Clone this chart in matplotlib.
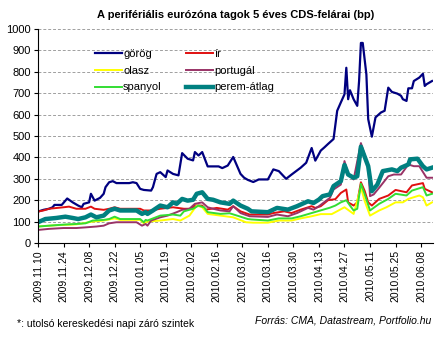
import matplotlib
matplotlib.use('Agg')
import matplotlib.pyplot as plt
import matplotlib.dates as mdates
import pandas as pd

plt.rcParams['font.family'] = ['Liberation Sans', 'DejaVu Sans']

# görög
gr_dates = ['2009-11-10', '2009-11-13', '2009-11-16', '2009-11-18', '2009-11-19', '2009-11-23',
            '2009-11-26', '2009-11-29', '2009-12-02', '2009-12-04', '2009-12-05', '2009-12-08',
            '2009-12-09', '2009-12-11', '2009-12-14', '2009-12-16', '2009-12-17', '2009-12-19',
            '2009-12-21', '2009-12-23', '2009-12-30', '2010-01-01', '2010-01-03', '2010-01-05',
            '2010-01-07', '2010-01-11', '2010-01-12', '2010-01-14', '2010-01-16', '2010-01-19',
            '2010-01-20', '2010-01-23', '2010-01-26', '2010-01-28', '2010-01-31', '2010-02-03',
            '2010-02-04', '2010-02-06', '2010-02-08', '2010-02-11', '2010-02-17', '2010-02-19',
            '2010-02-22', '2010-02-25', '2010-03-01', '2010-03-03', '2010-03-05', '2010-03-08',
            '2010-03-11', '2010-03-16', '2010-03-19', '2010-03-22', '2010-03-26', '2010-03-29',
            '2010-04-03', '2010-04-06', '2010-04-09', '2010-04-11', '2010-04-14', '2010-04-16',
            '2010-04-18', '2010-04-21', '2010-04-23', '2010-04-25', '2010-04-27', '2010-04-28',
            '2010-04-29', '2010-04-30', '2010-05-02', '2010-05-04', '2010-05-05', '2010-05-06',
            '2010-05-07', '2010-05-09', '2010-05-10', '2010-05-12', '2010-05-14', '2010-05-17',
            '2010-05-19', '2010-05-21', '2010-05-23', '2010-05-26', '2010-05-28', '2010-05-29',
            '2010-05-31', '2010-06-01', '2010-06-03', '2010-06-04', '2010-06-07', '2010-06-09',
            '2010-06-10', '2010-06-11', '2010-06-14']
gr_vals = [147, 155, 160, 167, 178, 178,
           208, 190, 175, 167, 183, 190,
           230, 198, 211, 230, 261, 284,
           289, 280, 280, 284, 280, 253,
           248, 245, 261, 323, 331, 308,
           339, 323, 316, 420, 394, 386,
           425, 409, 425, 358, 358, 350,
           362, 402, 323, 305, 295, 285,
           297, 297, 344, 336, 300, 320,
           352, 375, 444, 385, 432, 447,
           463, 486, 618, 657, 695, 819,
           672, 714, 672, 641, 757, 935,
           935, 788, 579, 497, 587, 610,
           618, 726, 706, 698, 688, 672,
           664, 723, 723, 757, 773, 791,
           734, 742, 757]

# ír
ir_dates = ['2009-11-10', '2009-11-13', '2009-11-16', '2009-11-24', '2009-11-27', '2009-12-01',
            '2009-12-06', '2009-12-09', '2009-12-11', '2009-12-16', '2009-12-19', '2009-12-22',
            '2009-12-25', '2010-01-05', '2010-01-07', '2010-01-11', '2010-01-16', '2010-01-23',
            '2010-01-29', '2010-02-02', '2010-02-04', '2010-02-08', '2010-02-10', '2010-02-16',
            '2010-02-22', '2010-02-25', '2010-03-01', '2010-03-06', '2010-03-16', '2010-03-19',
            '2010-03-25', '2010-03-29', '2010-04-03', '2010-04-09', '2010-04-11', '2010-04-14',
            '2010-04-18', '2010-04-22', '2010-04-25', '2010-04-28', '2010-04-29', '2010-05-02',
            '2010-05-04', '2010-05-06', '2010-05-08', '2010-05-10', '2010-05-12', '2010-05-16',
            '2010-05-21', '2010-05-25', '2010-05-31', '2010-06-03', '2010-06-09', '2010-06-10',
            '2010-06-14']
ir_vals = [147, 152, 160, 167, 170, 160,
           160, 170, 160, 155, 160, 167,
           160, 160, 152, 152, 160, 167,
           160, 160, 175, 175, 156, 164,
           156, 172, 148, 133, 133, 140,
           148, 140, 156, 172, 164, 172,
           200, 205, 234, 250, 190, 175,
           190, 284, 245, 190, 175, 206,
           222, 248, 237, 269, 280, 253,
           237]

# olasz
ol_dates = ['2009-11-10', '2009-11-20', '2009-12-01', '2009-12-10', '2009-12-16', '2009-12-22',
            '2009-12-25', '2010-01-05', '2010-01-07', '2010-01-09', '2010-01-16', '2010-01-23',
            '2010-01-27', '2010-02-01', '2010-02-05', '2010-02-08', '2010-02-11', '2010-02-18',
            '2010-02-25', '2010-03-04', '2010-03-08', '2010-03-16', '2010-03-22', '2010-03-29',
            '2010-04-03', '2010-04-09', '2010-04-14', '2010-04-20', '2010-04-22', '2010-04-27',
            '2010-05-02', '2010-05-06', '2010-05-08', '2010-05-11', '2010-05-16', '2010-05-20',
            '2010-05-25', '2010-05-29', '2010-06-01', '2010-06-07', '2010-06-09', '2010-06-11',
            '2010-06-14']
ol_vals = [77, 83, 87, 100, 105, 115,
           108, 108, 92, 100, 105, 112,
           105, 128, 175, 167, 136, 128,
           120, 97, 95, 95, 105, 105,
           115, 125, 135, 135, 144, 167,
           136, 261, 198, 128, 152, 167,
           190, 190, 206, 222, 214, 175,
           190]

# portugál
pt_dates = ['2009-11-10', '2009-11-16', '2009-11-24', '2009-12-01', '2009-12-06', '2009-12-12',
            '2009-12-16', '2009-12-19', '2009-12-23', '2010-01-03', '2010-01-06', '2010-01-08',
            '2010-01-09', '2010-01-11', '2010-01-16', '2010-01-20', '2010-01-25', '2010-01-28',
            '2010-02-01', '2010-02-04', '2010-02-08', '2010-02-11', '2010-02-14', '2010-02-18',
            '2010-02-23', '2010-02-25', '2010-03-01', '2010-03-06', '2010-03-16', '2010-03-21',
            '2010-03-27', '2010-04-01', '2010-04-07', '2010-04-10', '2010-04-13', '2010-04-19',
            '2010-04-21', '2010-04-25', '2010-04-27', '2010-04-29', '2010-05-02', '2010-05-06',
            '2010-05-10', '2010-05-11', '2010-05-13', '2010-05-16', '2010-05-21', '2010-05-24',
            '2010-05-28', '2010-06-01', '2010-06-04', '2010-06-07', '2010-06-11', '2010-06-14']
pt_vals = [61, 66, 70, 70, 73, 77,
           81, 92, 97, 97, 81, 89,
           81, 105, 120, 128, 144, 155,
           160, 183, 190, 167, 160, 152,
           148, 172, 140, 125, 122, 133,
           125, 140, 164, 156, 172, 211,
           250, 273, 383, 320, 297, 467,
           359, 219, 227, 258, 312, 320,
           320, 367, 359, 359, 305, 305]

# spanyol
es_dates = ['2009-11-10', '2009-11-16', '2009-11-24', '2009-12-01', '2009-12-06', '2009-12-10',
            '2009-12-16', '2009-12-19', '2009-12-22', '2009-12-25', '2010-01-05', '2010-01-07',
            '2010-01-08', '2010-01-09', '2010-01-16', '2010-01-23', '2010-01-27', '2010-01-29',
            '2010-02-03', '2010-02-06', '2010-02-09', '2010-02-11', '2010-02-18', '2010-02-23',
            '2010-03-01', '2010-03-05', '2010-03-07', '2010-03-16', '2010-03-22', '2010-03-29',
            '2010-04-03', '2010-04-09', '2010-04-13', '2010-04-19', '2010-04-22', '2010-04-25',
            '2010-04-28', '2010-04-30', '2010-05-02', '2010-05-04', '2010-05-06', '2010-05-08',
            '2010-05-11', '2010-05-16', '2010-05-21', '2010-05-25', '2010-05-31', '2010-06-03',
            '2010-06-09', '2010-06-11', '2010-06-14']
es_vals = [77, 81, 86, 89, 92, 105,
           108, 112, 123, 112, 112, 97,
           108, 105, 128, 133, 128, 148,
           160, 175, 167, 144, 136, 139,
           123, 112, 110, 105, 115, 115,
           125, 140, 150, 165, 175, 190,
           200, 175, 152, 160, 277, 230,
           152, 183, 206, 230, 222, 245,
           261, 222, 230]

# perem-átlag
pa_dates = ['2009-11-10', '2009-11-14', '2009-11-20', '2009-11-25', '2009-11-29', '2009-12-02',
            '2009-12-06', '2009-12-09', '2009-12-12', '2009-12-16', '2009-12-19', '2009-12-22',
            '2009-12-25', '2010-01-03', '2010-01-06', '2010-01-08', '2010-01-09', '2010-01-12',
            '2010-01-16', '2010-01-20', '2010-01-23', '2010-01-25', '2010-01-28', '2010-01-31',
            '2010-02-03', '2010-02-05', '2010-02-08', '2010-02-11', '2010-02-14', '2010-02-18',
            '2010-02-23', '2010-02-25', '2010-03-01', '2010-03-05', '2010-03-07', '2010-03-16',
            '2010-03-21', '2010-03-27', '2010-04-01', '2010-04-07', '2010-04-10', '2010-04-13',
            '2010-04-15', '2010-04-19', '2010-04-21', '2010-04-25', '2010-04-27', '2010-04-29',
            '2010-05-02', '2010-05-04', '2010-05-06', '2010-05-10', '2010-05-12', '2010-05-15',
            '2010-05-18', '2010-05-23', '2010-05-26', '2010-05-28', '2010-06-01', '2010-06-02',
            '2010-06-06', '2010-06-09', '2010-06-11', '2010-06-14']
pa_vals = [97, 112, 117, 123, 117, 112,
           120, 133, 120, 128, 152, 160,
           152, 152, 136, 144, 136, 152,
           175, 167, 190, 183, 206, 198,
           202, 230, 237, 206, 202, 190,
           183, 198, 175, 160, 148, 144,
           164, 156, 172, 195, 187, 203,
           219, 227, 266, 289, 365, 320,
           305, 312, 450, 359, 242, 273,
           336, 344, 336, 352, 367, 391,
           394, 359, 344, 352]

series = [
    ('görög', gr_dates, gr_vals, '#000080', 1.6),
    ('ír', ir_dates, ir_vals, '#e01010', 1.4),
    ('olasz', ol_dates, ol_vals, '#ffff00', 1.4),
    ('portugál', pt_dates, pt_vals, '#993366', 1.4),
    ('spanyol', es_dates, es_vals, '#33dd33', 1.4),
    ('perem-átlag', pa_dates, pa_vals, '#008080', 3.2),
]

tick_dates = pd.date_range('2009-11-10', '2010-06-08', freq='14D')

fig = plt.figure(figsize=(4.38, 3.44), dpi=100)
ax = fig.add_axes([0.0868, 0.2936, 0.9017, 0.622])

lines = {}
for name, d, v, c, lw in series:
    lines[name], = ax.plot(pd.to_datetime(d), v, color=c, lw=lw, label=name,
                           solid_joinstyle='round')

ax.set_ylim(0, 1000)
ax.set_yticks(range(0, 1001, 100))
ax.set_xlim(pd.Timestamp('2009-11-10'), pd.Timestamp('2010-06-14 12:00'))
ax.set_xticks(tick_dates)
ax.xaxis.set_major_formatter(mdates.DateFormatter('%Y.%m.%d'))
plt.setp(ax.get_xticklabels(), rotation=90, fontsize=7.5)
plt.setp(ax.get_yticklabels(), fontsize=8)
ax.tick_params(length=3, width=0.8, pad=2)

ax.yaxis.grid(True, ls=(0, (3, 2)), color='#a0a0a0', lw=0.7)
ax.set_axisbelow(True)
for s in ['top', 'right']:
    ax.spines[s].set_visible(False)

ax.set_title('A perifériális eurózóna tagok 5 éves CDS-felárai (bp)',
             fontsize=8, fontweight='bold', pad=8)

# matplotlib fills legend column by column
order = ['görög', 'olasz', 'spanyol', 'ír', 'portugál', 'perem-átlag']
ax.legend([lines[n] for n in order], order, ncol=2, frameon=False, fontsize=8,
          loc='upper left', bbox_to_anchor=(0.12, 0.955), handlelength=2.4,
          handletextpad=0.1, columnspacing=2.2, labelspacing=0.62)

fig.text(0.039, 0.05, '*: utolsó kereskedési napi záró szintek', fontsize=7.5)
fig.text(0.985, 0.06, 'Forrás: CMA, Datastream, Portfolio.hu', fontsize=7.5,
         style='italic', ha='right')

fig.savefig('out.png', dpi=100)
